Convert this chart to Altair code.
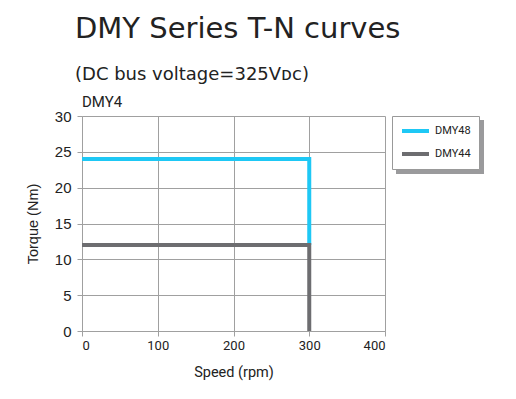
import altair as alt
import pandas as pd

series = ["DMY48", "DMY48", "DMY48", "DMY44", "DMY44", "DMY44"]
speed = [0, 300, 300, 0, 300, 300]
torque = [24, 24, 12, 12, 12, 0]
order = [0, 1, 2, 0, 1, 2]

names = ["DMY48", "DMY44"]
colors = ["#1ec8f5", "#6d6d70"]

df = pd.DataFrame({"series": series, "speed": speed, "torque": torque, "ord": order})

lines = alt.Chart(df).mark_line(strokeWidth=4, strokeCap="butt", strokeJoin="miter").encode(
    x=alt.X("speed:Q", scale=alt.Scale(domain=[0, 400]),
            axis=alt.Axis(title="Speed (rpm)", values=[0, 100, 200, 300, 400], tickSize=5,
                          labelPadding=3, titlePadding=13, labelFont="Roboto", labelFontSize=13,
                          titleFont="Roboto", titleFontSize=14.5, titleFontWeight="normal")),
    y=alt.Y("torque:Q", scale=alt.Scale(domain=[0, 30]),
            axis=alt.Axis(title="Torque (Nm)", values=[0, 5, 10, 15, 20, 25, 30], tickSize=5,
                          labelPadding=6, titlePadding=14, labelFont="Liberation Sans", labelFontSize=15,
                          titleFont="Liberation Sans", titleFontSize=14.5, titleFontWeight="normal")),
    color=alt.Color("series:N", scale=alt.Scale(domain=names, range=colors),
                    legend=alt.Legend(title=None, orient="none", legendX=310, legendY=0,
                                      symbolType="stroke", symbolSize=729, symbolStrokeWidth=4,
                                      clipHeight=14, rowPadding=9, padding=8, labelOffset=4,
                                      strokeColor="#999999", fillColor="white",
                                      labelFont="Roboto", labelFontSize=11, labelColor="#222222")),
    order=alt.Order("ord:Q"),
)

shadow = alt.Chart(pd.DataFrame({"a": [0]})).mark_rect(color="#9a9a9c").encode(
    x=alt.value(314), x2=alt.value(402), y=alt.value(4), y2=alt.value(58)
)

label = alt.Chart(pd.DataFrame({"t": ["DMY4"]})).mark_text(
    align="left", baseline="alphabetic", font="Roboto", fontSize=15, color="#222222"
).encode(x=alt.value(0), y=alt.value(-9), text="t:N")

chart = alt.layer(shadow, lines, label).properties(
    width=303, height=215,
    autosize="none",
    padding={"left": 74, "top": 108, "right": 120, "bottom": 57},
    title=alt.TitleParams(text="DMY Series T-N curves", subtitle="(DC bus voltage=325Vᴅᴄ)",
                          anchor="start", frame="group", dx=-7, offset=11, font="DejaVu Sans", fontSize=29,
                          fontWeight="normal", color="#222222", subtitleFont="DejaVu Sans",
                          subtitleFontSize=18, subtitleColor="#222222", subtitlePadding=22),
).configure_axis(
    gridColor="#a0a0a0", domainColor="#a0a0a0", tickColor="#a0a0a0",
    labelColor="#222222", titleColor="#222222", gridOpacity=1
).configure_view(stroke=None)

chart.save("out.html", embed_options={"renderer": "svg", "actions": False})
